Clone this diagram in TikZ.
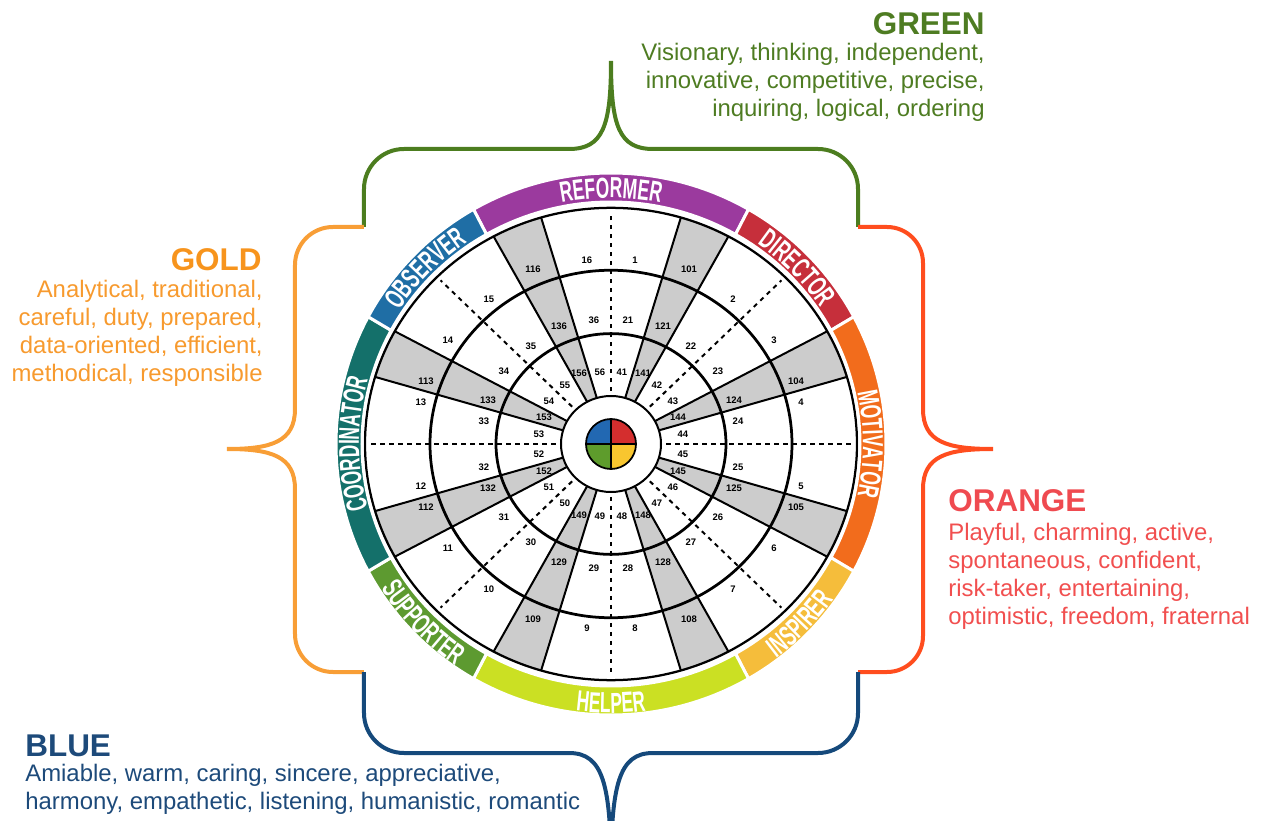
\documentclass[tikz,border=0pt]{standalone}
\usepackage{fontspec}
\setmainfont{Liberation Sans}
\newfontfamily\ringfont[FakeStretch=0.6]{Liberation Sans}
\usetikzlibrary{decorations.text}

\definecolor{reformer}{HTML}{9B3A9E}
\definecolor{director}{HTML}{C62F3B}
\definecolor{motivator}{HTML}{F26C1C}
\definecolor{inspirer}{HTML}{F5BD3B}
\definecolor{helper}{HTML}{CBE023}
\definecolor{supporter}{HTML}{5D9A30}
\definecolor{coordinator}{HTML}{14706A}
\definecolor{observer}{HTML}{1F6EA5}
\definecolor{discblue}{HTML}{2268B2}
\definecolor{discred}{HTML}{D42E2E}
\definecolor{discgreen}{HTML}{5E9C2C}
\definecolor{discyellow}{HTML}{F8C62F}
\definecolor{greenc}{HTML}{4C7D1F}
\definecolor{goldc}{HTML}{F89E36}
\definecolor{orangec}{HTML}{FF4D1E}
\definecolor{bluec}{HTML}{15497B}
\definecolor{greentxt}{HTML}{4E7C22}
\definecolor{goldhead}{HTML}{F7941D}
\definecolor{goldtxt}{HTML}{F79A2E}
\definecolor{orangehead}{HTML}{EF4A50}
\definecolor{orangetxt}{HTML}{F14F4F}
\definecolor{bluetxt}{HTML}{1D4A7A}

\newcommand{\ringstyle}{\ringfont\bfseries\fontsize{16.5}{18}\selectfont\color{white}}
\newcommand{\ringlabel}[5]{\path[decorate, decoration={text along path, text align=center, text={|\ringstyle|#5}}] (#1:#3 and #4) arc[start angle=#1, end angle=#2, x radius=#3, y radius=#4];}

\tikzset{
  num/.style={font=\bfseries\fontsize{5.4}{6}\selectfont, inner sep=0},
  wedge/.style={fill=black!20},
  spoke/.style={line width=0.4mm, dash pattern=on 0.9mm off 0.9mm},
  seg/.style={draw=white, line width=0.6mm},
  brace/.style={line width=0.8mm},
  head/.style={font=\bfseries\fontsize{17.9}{20}\selectfont, inner sep=0},
  body/.style={font=\fontsize{13.6}{16}\selectfont, inner sep=0}
}

\begin{document}
\begin{tikzpicture}[x=0.2mm,y=0.2mm]
\useasboundingbox (-611,-377) rectangle (652,444);
\begin{scope}[yscale=0.96]
\foreach \a in {22.5,67.5,...,337.5}
  \fill[wedge] ({\a-6}:50) -- ({\a-6}:246) arc[start angle=\a-6, end angle=\a+6, radius=246] -- ({\a+6}:50) arc[start angle=\a+6, end angle=\a-6, radius=50] -- cycle;
\draw[line width=0.55mm] (0,0) circle[radius=115] (0,0) circle[radius=181];
\draw[line width=0.45mm] (0,0) circle[radius=246];
\foreach \a in {22.5,67.5,...,337.5}
  \draw[line width=0.4mm] ({\a-6}:50) -- ({\a-6}:246) ({\a+6}:50) -- ({\a+6}:246);
\foreach \a in {0,45,...,315}
  \draw[spoke] (\a:55) -- (\a:241);
\filldraw[fill=white, line width=0.4mm] (0,0) circle[radius=50];
\end{scope}
\fill[discred] (0,0) -- (0:25) arc[start angle=0, end angle=90, radius=25] -- cycle;
\fill[discblue] (0,0) -- (90:25) arc[start angle=90, end angle=180, radius=25] -- cycle;
\fill[discgreen] (0,0) -- (180:25) arc[start angle=180, end angle=270, radius=25] -- cycle;
\fill[discyellow] (0,0) -- (270:25) arc[start angle=270, end angle=360, radius=25] -- cycle;
\draw[line width=0.35mm] (0,0) circle[radius=25] (-25,0) -- (25,0) (0,-25) -- (0,25);
\foreach \s/\e/\c in {60/120/reformer, 28/60/director, -28/28/motivator, -60/-28/inspirer, -120/-60/helper, -152/-120/supporter, 152/208/coordinator, 120/152/observer}
  \filldraw[seg, fill=\c] (\s:249 and 242) arc[start angle=\s, end angle=\e, x radius=249, y radius=242] -- (\e:275 and 271) arc[start angle=\e, end angle=\s, x radius=275, y radius=271] -- cycle;
\ringlabel{120}{60}{252}{246}{REFORMER}
\ringlabel{60}{28}{252}{246}{DIRECTOR}
\ringlabel{28}{-28}{252}{246}{MOTIVATOR}
\ringlabel{208}{152}{252}{246}{COORDINATOR}
\ringlabel{152}{120}{252}{246}{OBSERVER}
\ringlabel{-60}{-28}{273}{269}{INSPIRER}
\ringlabel{-120}{-60}{273}{269}{HELPER}
\ringlabel{-152}{-120}{273}{269}{SUPPORTER}
\foreach \x/\y/\a/\b/\c/\d in {24/184/1/16/8/9, 78/175/101/116/108/109, 122/145/2/15/7/10, 163/104/3/14/6/11, 185/63/104/113/105/112, 190/42/4/13/5/12,
    17/124/21/36/28/29, 52/118/121/136/128/129, 80/98/22/35/27/30, 107/73/23/34/26/31, 123/44/124/133/125/132, 127/23/24/33/25/32,
    11/72/41/56/48/49, 32/71/141/156/148/149, 46/59/42/55/47/50, 62/43/43/54/46/51, 67/27/144/153/145/152, 72/10/44/53/45/52} {
  \node[num] (n\a) at (\x,\y) {\a};
  \node[num] (n\b) at (-\x,\y) {\b};
  \node[num] (n\c) at (\x,-\y) {\c};
  \node[num] (n\d) at (-\x,-\y) {\d};
}
\draw[brace, greenc] (-247,217) -- (-247,255) to[out=90,in=180] (-207,295) -- (-42,295) .. controls (-8,295) and (0,318) .. (0,383) .. controls (0,318) and (8,295) .. (42,295) -- (207,295) to[out=0,in=90] (247,255) -- (247,217);
\draw[brace, goldc] (-247,217) -- (-278,217) to[out=180,in=90] (-316,179) -- (-316,35) .. controls (-316,2) and (-340,-5) .. (-384,-5) .. controls (-340,-5) and (-316,-12) .. (-316,-45) -- (-316,-190) to[out=-90,in=180] (-278,-228) -- (-247,-228);
\draw[brace, orangec] (247,217) -- (276,217) to[out=0,in=90] (312,181) -- (312,35) .. controls (312,2) and (336,-5) .. (382,-5) .. controls (336,-5) and (312,-12) .. (312,-45) -- (312,-192) to[out=-90,in=0] (276,-228) -- (247,-228);
\draw[brace, bluec] (-247,-228) -- (-247,-269) to[out=-90,in=180] (-207,-309) -- (-42,-309) .. controls (-8,-309) and (0,-340) .. (0,-430) .. controls (0,-340) and (8,-309) .. (42,-309) -- (207,-309) to[out=0,in=-90] (247,-269) -- (247,-228);
\node[head, text=greentxt, anchor=base east] (green) at (374,409) {GREEN};
\foreach \t [count=\i] in {{Visionary, thinking, independent,},{innovative, competitive, precise,},{inquiring, logical, ordering}}
  \node[body, text=greentxt, anchor=base east] (gr\i) at (374,{411-28*\i}) {\t};
\node[head, text=goldhead, anchor=base east] (gold) at (-349,173) {GOLD};
\foreach \t [count=\i] in {{Analytical, traditional,},{careful, duty, prepared,},{data-oriented, efficient,},{methodical, responsible}}
  \node[body, text=goldtxt, anchor=base east] (go\i) at (-348,{174-28*\i}) {\t};
\node[head, text=orangehead, anchor=base west] (orange) at (337,-68) {ORANGE};
\foreach \t [count=\i] in {{Playful, charming, active,},{spontaneous, confident,},{risk-taker, entertaining,},{optimistic, freedom, fraternal}}
  \node[body, text=orangetxt, anchor=base west] (or\i) at (337,{-68-28*\i}) {\t};
\node[head, text=bluetxt, anchor=base west] (blue) at (-586,-312) {BLUE};
\foreach \t [count=\i] in {{Amiable, warm, caring, sincere, appreciative,},{harmony, empathetic, listening, humanistic, romantic}}
  \node[body, text=bluetxt, anchor=base west] (bl\i) at (-586,{-309-28*\i}) {\t};
\end{tikzpicture}
\end{document}
